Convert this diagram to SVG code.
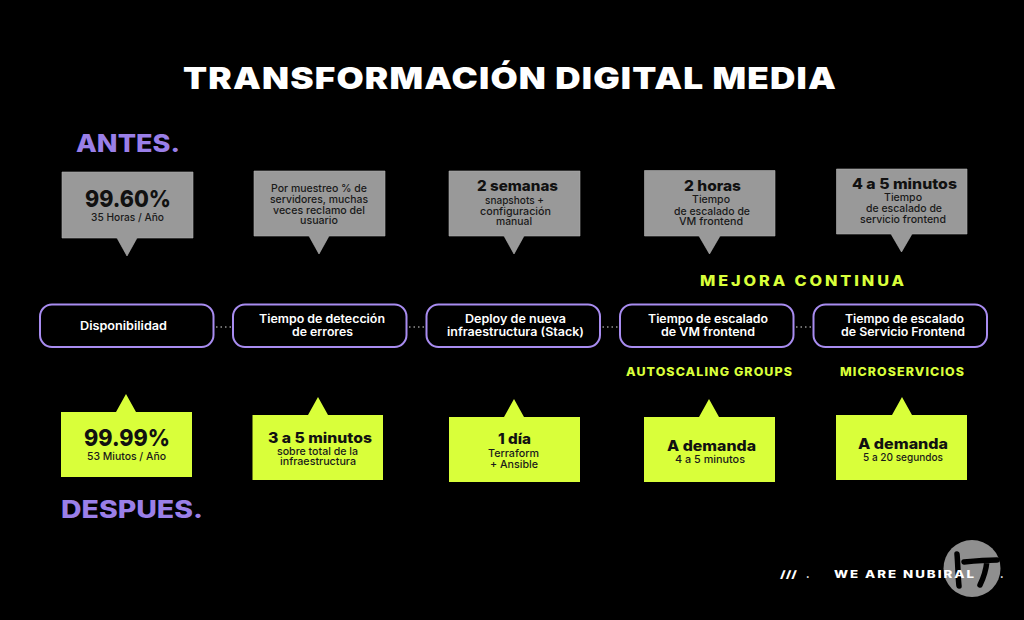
<svg xmlns="http://www.w3.org/2000/svg" width="1024" height="620" viewBox="0 0 1024 620">
<style>
text{font-family:"Inter","Liberation Sans",sans-serif;}
.callg{fill:#999999;stroke:#b0b0b0;stroke-width:.6}
.calll{fill:#d9ff3a;}
.pill{fill:#000;stroke:#a88cf0;stroke-width:2}
.dots{stroke:#ddd;stroke-width:1;stroke-dasharray:1.5 3;fill:none}
.h{font-weight:800;font-size:23px;fill:#111}
.m{font-weight:800;font-size:14.500px;fill:#111}
.s{font-weight:500;font-size:10.500px;fill:#1a1a1a}
.p{font-weight:600;font-size:11.500px;fill:#fff}
.tag{font-weight:800;fill:#d9ff3a}
.sec{font-weight:800;font-size:24px;fill:#9a7fe8}
</style>
<rect width="1024" height="620" fill="#000"/>
<text id="title" x="183" y="89" font-size="30" font-weight="900" fill="#fff" textLength="654" lengthAdjust="spacingAndGlyphs" letter-spacing="1">TRANSFORMACIÓN DIGITAL MEDIA</text>
<text class="sec" x="76" y="152" textLength="104" lengthAdjust="spacingAndGlyphs">ANTES.</text>
<text class="sec" x="61" y="518" textLength="142" lengthAdjust="spacingAndGlyphs">DESPUES.</text>
<g id="connectors">
<path class="dots" d="M216 327H231M409 327H424M602.500 327H618M796 327H811"/>
</g>
<g id="antes-1"><path class="callg" d="M62 172H193V238H137L127 256L117 238H62Z"/>
<text class="h" x="85" y="207" textLength="86" lengthAdjust="spacingAndGlyphs">99.60%</text><text class="s" x="91" y="220.500" textLength="73" lengthAdjust="spacingAndGlyphs">35 Horas / Año</text></g>
<g id="antes-2"><path class="callg" d="M254 171H385V236H329L319 254L309 236H254Z"/>
<text class="s" x="271" y="192" textLength="96" lengthAdjust="spacingAndGlyphs">Por muestreo % de</text><text class="s" x="270" y="203" textLength="98" lengthAdjust="spacingAndGlyphs">servidores, muchas</text><text class="s" x="273" y="213.500" textLength="92" lengthAdjust="spacingAndGlyphs">veces reclamo del</text><text class="s" x="300" y="224" textLength="38" lengthAdjust="spacingAndGlyphs">usuario</text></g>
<g id="antes-3"><path class="callg" d="M449 171H580V236H524L514 254L504 236H449Z"/>
<text class="m" x="477" y="191" textLength="81" lengthAdjust="spacingAndGlyphs">2 semanas</text><text class="s" x="485" y="204" textLength="59" lengthAdjust="spacingAndGlyphs">snapshots +</text><text class="s" x="480" y="215" textLength="71" lengthAdjust="spacingAndGlyphs">configuración</text><text class="s" x="496" y="225" textLength="36" lengthAdjust="spacingAndGlyphs">manual</text></g>
<g id="antes-4"><path class="callg" d="M644.500 170.500H775V236H720L709.500 254L699 236H644.500Z"/>
<text class="m" x="684" y="191" textLength="57" lengthAdjust="spacingAndGlyphs">2 horas</text><text class="s" x="692" y="203" textLength="38" lengthAdjust="spacingAndGlyphs">Tiempo</text><text class="s" x="674" y="214.500" textLength="76" lengthAdjust="spacingAndGlyphs">de escalado de</text><text class="s" x="679" y="225" textLength="64" lengthAdjust="spacingAndGlyphs">VM frontend</text></g>
<g id="antes-5"><path class="callg" d="M836.500 169H967V234H912L901.500 252L891 234H836.500Z"/>
<text class="m" x="852" y="189" textLength="105" lengthAdjust="spacingAndGlyphs">4 a 5 minutos</text><text class="s" x="884" y="201" textLength="38" lengthAdjust="spacingAndGlyphs">Tiempo</text><text class="s" x="866" y="212" textLength="76" lengthAdjust="spacingAndGlyphs">de escalado de</text><text class="s" x="860" y="223" textLength="86" lengthAdjust="spacingAndGlyphs">servicio frontend</text></g>
<text class="tag" x="700" y="286" font-size="14" letter-spacing="2.500" textLength="207" lengthAdjust="spacingAndGlyphs">MEJORA CONTINUA</text>
<g id="metrica-1"><rect class="pill" x="40" y="304.500" width="173.500" height="42.500" rx="12"/>
<text class="p" x="80" y="330" textLength="87" lengthAdjust="spacingAndGlyphs">Disponibilidad</text></g>
<g id="metrica-2"><rect class="pill" x="233" y="304.500" width="173.500" height="42.500" rx="12"/>
<text class="p" x="259" y="323" textLength="126" lengthAdjust="spacingAndGlyphs">Tiempo de detección</text><text class="p" x="292" y="336" textLength="61" lengthAdjust="spacingAndGlyphs">de errores</text></g>
<g id="metrica-3"><rect class="pill" x="426.500" y="304.500" width="173.500" height="42.500" rx="12"/>
<text class="p" x="465" y="323" textLength="101" lengthAdjust="spacingAndGlyphs">Deploy de nueva</text><text class="p" x="447" y="336" textLength="137" lengthAdjust="spacingAndGlyphs">infraestructura (Stack)</text></g>
<g id="metrica-4"><rect class="pill" x="620" y="304.500" width="173.500" height="42.500" rx="12"/>
<text class="p" x="648" y="323" textLength="120" lengthAdjust="spacingAndGlyphs">Tiempo de escalado</text><text class="p" x="661" y="336" textLength="94" lengthAdjust="spacingAndGlyphs">de VM frontend</text></g>
<g id="metrica-5"><rect class="pill" x="813.500" y="304.500" width="173.500" height="42.500" rx="12"/>
<text class="p" x="845" y="323" textLength="119" lengthAdjust="spacingAndGlyphs">Tiempo de escalado</text><text class="p" x="841" y="336" textLength="124" lengthAdjust="spacingAndGlyphs">de Servicio Frontend</text></g>
<text class="tag" x="626" y="376" font-size="11.500" letter-spacing="1" textLength="167" lengthAdjust="spacingAndGlyphs">AUTOSCALING GROUPS</text>
<text class="tag" x="840" y="376" font-size="11.500" letter-spacing="1" textLength="125" lengthAdjust="spacingAndGlyphs">MICROSERVICIOS</text>
<g id="despues-1"><path class="calll" d="M61 412H116L126 394L136 412H192V477H61Z"/>
<text class="h" x="84" y="446" textLength="86" lengthAdjust="spacingAndGlyphs">99.99%</text><text class="s" x="87" y="460" textLength="79" lengthAdjust="spacingAndGlyphs">53 Miutos / Año</text></g>
<g id="despues-2"><path class="calll" d="M252.500 415H308L318 397L328 415H383V480H252.500Z"/>
<text class="m" x="268" y="443" textLength="104" lengthAdjust="spacingAndGlyphs">3 a 5 minutos</text><text class="s" x="277" y="455" textLength="81" lengthAdjust="spacingAndGlyphs">sobre total de la</text><text class="s" x="280" y="465" textLength="76" lengthAdjust="spacingAndGlyphs">infraestructura</text></g>
<g id="despues-3"><path class="calll" d="M449 417H504L514 399L524 417H580V482H449Z"/>
<text class="m" x="498" y="444" textLength="33" lengthAdjust="spacingAndGlyphs">1 día</text><text class="s" x="488" y="457" textLength="51" lengthAdjust="spacingAndGlyphs">Terraform</text><text class="s" x="490" y="467.500" textLength="48" lengthAdjust="spacingAndGlyphs">+ Ansible</text></g>
<g id="despues-4"><path class="calll" d="M644 417H699L709 399L719 417H775V482H644Z"/>
<text class="m" x="667" y="451" textLength="89" lengthAdjust="spacingAndGlyphs">A demanda</text><text class="s" x="675" y="463" textLength="70" lengthAdjust="spacingAndGlyphs">4 a 5 minutos</text></g>
<g id="despues-5"><path class="calll" d="M836 415H892L902 397L912 415H967V480H836Z"/>
<text class="m" x="858" y="449" textLength="90" lengthAdjust="spacingAndGlyphs">A demanda</text><text class="s" x="863" y="461" textLength="80" lengthAdjust="spacingAndGlyphs">5 a 20 segundos</text></g>
<g id="logo"><circle cx="972" cy="568.500" r="28.500" fill="#8f8f8f"/>
<path d="M957 554C958 565 958 578 959 586" fill="none" stroke="#000" stroke-width="5.500" stroke-linecap="round"/>
<path d="M964 562C974 561 986 560 997 560M987 561C986 570 983 579 980 585" fill="none" stroke="#000" stroke-width="5.500" stroke-linecap="round"/></g>
<g id="footer" fill="#fff" font-weight="800" font-size="10">
<text x="780" y="578" textLength="17" lengthAdjust="spacingAndGlyphs">///</text><text x="806" y="578">.</text>
<text x="834" y="578" letter-spacing="1.500" textLength="142" lengthAdjust="spacingAndGlyphs">WE ARE NUBIRAL</text><text x="1000" y="578">.</text></g>
</svg>
